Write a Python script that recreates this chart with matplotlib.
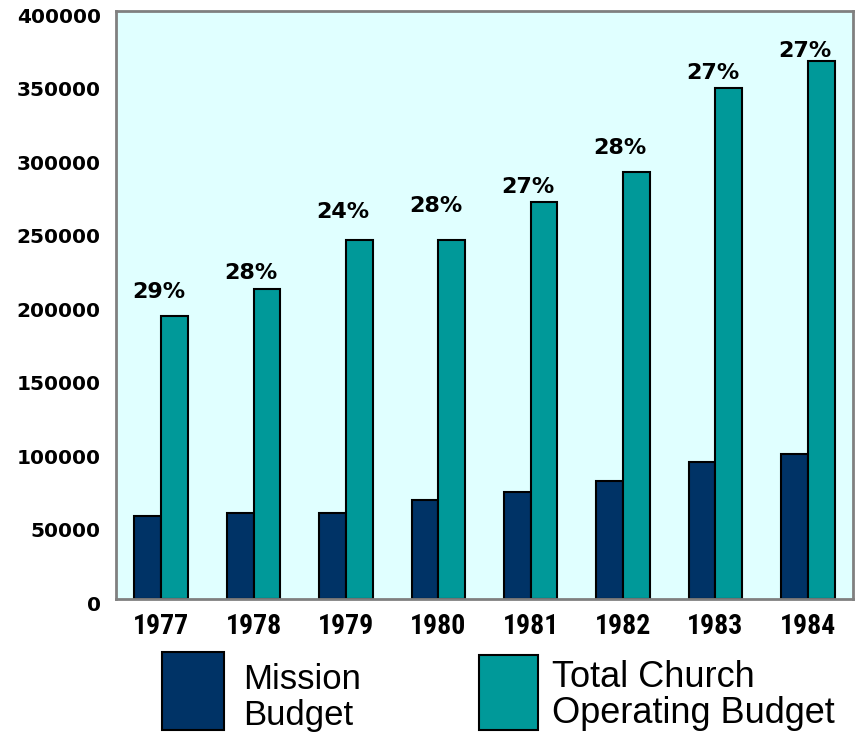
import matplotlib
matplotlib.use("Agg")
import matplotlib.pyplot as plt
import matplotlib.transforms as mtransforms
from matplotlib.patches import Rectangle
import numpy as np

# data
years = ["1977", "1978", "1979", "1980", "1981", "1982", "1983", "1984"]
mission = [56500, 58500, 58500, 67500, 73000, 80500, 93000, 98500]
total = [192500, 211000, 244000, 244000, 270000, 290500, 347500, 366000]
pct_labels = ["29%", "28%", "24%", "28%", "27%", "28%", "27%", "27%"]
pct_label_y = [205000, 218000, 259000, 263000, 276000, 303000, 354000, 369000]
yticks = [0, 50000, 100000, 150000, 200000, 250000, 300000, 350000, 400000]

navy = "#003366"
teal = "#009999"
bg = "#E0FFFF"

fig = plt.figure(figsize=(8.62, 7.35), dpi=100)
ax = fig.add_axes([0.1346, 0.185, 0.855, 0.8])
ax.set_facecolor(bg)

x = np.arange(len(years))
w = 0.29
ax.bar(x - w / 2, mission, w, color=navy, edgecolor="black", linewidth=1.5, zorder=2)
ax.bar(x + w / 2, total, w, color=teal, edgecolor="black", linewidth=1.5, zorder=2)

for xi, lab, yy in zip(x, pct_labels, pct_label_y):
    ax.text(xi - 0.03, yy, lab, ha="center", va="baseline", fontsize=16,
            fontweight="bold", family="DejaVu Sans")

ax.set_xlim(-0.49, 7.49)
ax.set_ylim(0, 400000)
ax.set_xticks(x)
ax.set_xticklabels(years, fontsize=20, fontweight="bold",
                   family=["Liberation Sans Narrow", "DejaVu Sans Condensed",
                           "Roboto Condensed", "Liberation Sans"])
ax.set_yticks(yticks)
ax.set_yticklabels([str(v) for v in yticks], fontsize=14.5, fontweight="bold")
ax.tick_params(axis="both", length=0)
ax.tick_params(axis="y", pad=11)
ax.tick_params(axis="x", pad=10)

# nudge y labels slightly down like the original
offset = mtransforms.ScaledTranslation(0, -4 / 100, fig.dpi_scale_trans)
for lbl in ax.get_yticklabels():
    lbl.set_transform(lbl.get_transform() + offset)

for s in ax.spines.values():
    s.set_color("#808080")
    s.set_linewidth(2)

# legend drawn by hand
W, H = 862, 735
def fig_box(x0, y0, x1, y1, color):
    fig.patches.append(Rectangle((x0 / W, 1 - y1 / H), (x1 - x0) / W, (y1 - y0) / H,
                                 transform=fig.transFigure, facecolor=color,
                                 edgecolor="black", linewidth=1.5))

fig_box(162, 652, 224, 730, navy)
fig_box(479, 655, 538, 730, teal)
fig.text(243 / W, 1 - 725 / H, "Mission\nBudget", fontsize=25, va="baseline",
         ha="left", linespacing=1.1, family="Liberation Sans")
fig.text(552 / W, 1 - 723 / H, "Total Church\nOperating Budget", fontsize=26,
         va="baseline", ha="left", linespacing=1.05, family="Liberation Sans")

fig.savefig("out.png", dpi=100)
